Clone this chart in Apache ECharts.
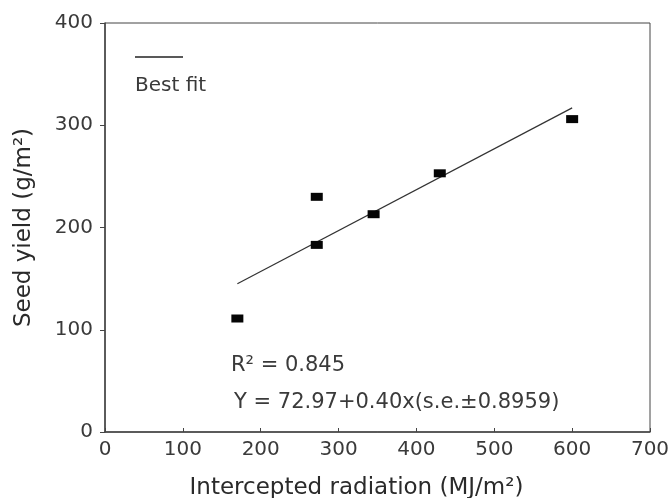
<!DOCTYPE html>
<html>
<head>
<meta charset="utf-8">
<script src="https://cdn.jsdelivr.net/npm/echarts@6/dist/echarts.min.js"></script>
<style>
html,body{margin:0;padding:0;background:#fff;}
#chart{width:672px;height:498px;}
</style>
</head>
<body>
<div id="chart"></div>
<script>
// Data
var radiation = [170, 272, 272, 345, 430, 600];
var seedYield = [111, 230, 183, 213, 253, 306];
var fitX = [170, 600];
var fitY = [145, 317];
var xTicks = [0, 100, 200, 300, 400, 500, 600, 700];
var yTicks = [0, 100, 200, 300, 400];
var xTitle = 'Intercepted radiation (MJ/m²)';
var yTitle = 'Seed yield (g/m²)';
var legendText = 'Best fit';
var r2Text = 'R² = 0.845';
var eqText = 'Y = 72.97+0.40x(s.e.±0.8959)';

var FONT = 'DejaVu Sans';
var TXT = '#3a3a3a';
var TTL = '#2a2a2a';
var AX = '#444';

var points = radiation.map(function (x, i) { return [x, seedYield[i]]; });
var fit = fitX.map(function (x, i) { return [x, fitY[i]]; });

var chart = echarts.init(document.getElementById('chart'));
chart.setOption({
  animation: false,
  backgroundColor: '#fff',
  grid: {
    left: 105, right: 22, top: 23, bottom: 66,
    containLabel: false, outerBoundsMode: 'none',
    show: true, borderColor: AX, borderWidth: 1, backgroundColor: 'transparent'
  },
  xAxis: {
    type: 'value', min: xTicks[0], max: xTicks[xTicks.length - 1], interval: 100,
    splitLine: { show: false },
    axisLine: { show: true, lineStyle: { color: AX, width: 1.5 } },
    axisTick: { show: true, inside: true, length: 4, lineStyle: { color: AX } },
    axisLabel: { color: TXT, fontFamily: FONT, fontSize: 20, margin: 8 },
    name: xTitle, nameLocation: 'middle', nameGap: 45,
    nameTextStyle: { color: TTL, fontFamily: FONT, fontSize: 23, padding: [0, 42, 0, 0] }
  },
  yAxis: {
    type: 'value', min: yTicks[0], max: yTicks[yTicks.length - 1], interval: 100,
    splitLine: { show: false },
    axisLine: { show: true, lineStyle: { color: AX, width: 1.5 } },
    axisTick: { show: true, inside: false, length: 5, lineStyle: { color: AX } },
    axisLabel: { color: TXT, fontFamily: FONT, fontSize: 20, margin: 12 },
    name: yTitle, nameLocation: 'middle', nameGap: 69, nameRotate: 90,
    nameTextStyle: { color: TTL, fontFamily: FONT, fontSize: 23 }
  },
  series: [
    {
      type: 'line', data: fit, symbol: 'none',
      lineStyle: { color: '#333', width: 1.2 }, z: 2
    },
    {
      type: 'scatter', data: points, symbol: 'rect', symbolSize: [12, 8],
      itemStyle: { color: '#050505', opacity: 1 }, z: 3
    }
  ],
  graphic: [
    { type: 'line', shape: { x1: 135, y1: 57, x2: 183, y2: 57 }, style: { stroke: '#222', lineWidth: 1.5 } },
    { type: 'text', left: 135, top: 76, style: { text: legendText, fill: TXT, font: '20px "' + FONT + '"' } },
    { type: 'text', left: 231, top: 355, style: { text: r2Text, fill: TXT, font: '21px "' + FONT + '"' } },
    { type: 'text', left: 234, top: 392, style: { text: eqText, fill: TXT, font: '21px "' + FONT + '"' } }
  ]
});
</script>
</body>
</html>
